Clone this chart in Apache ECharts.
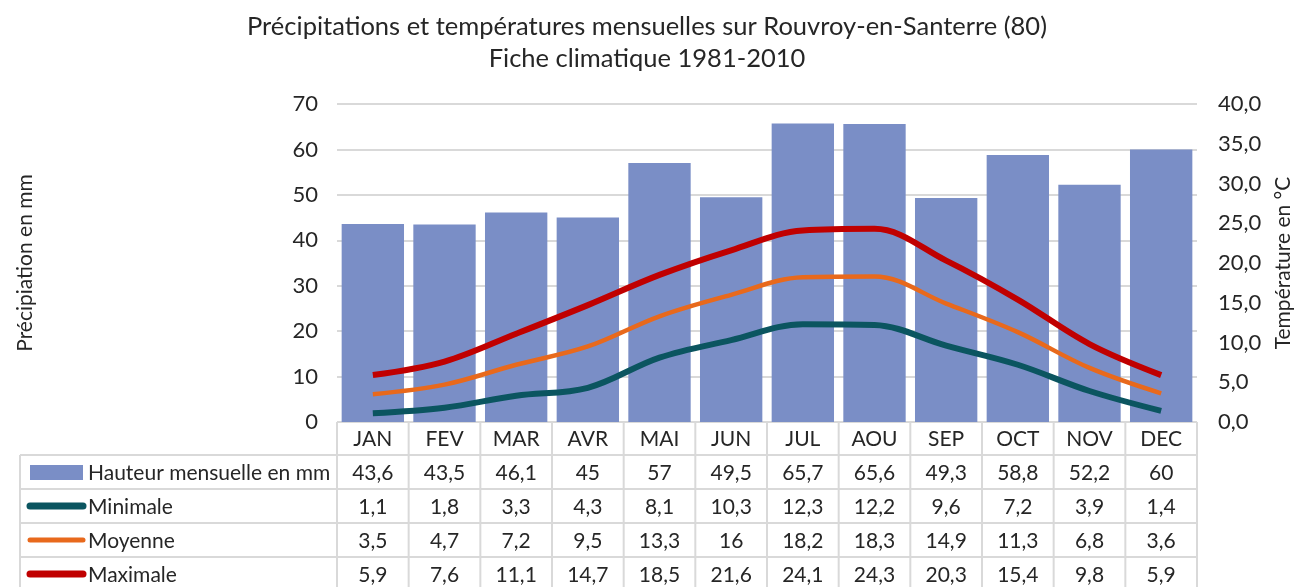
<!DOCTYPE html>
<html>
<head>
<meta charset="utf-8">
<script src="https://cdn.jsdelivr.net/npm/echarts@6/dist/echarts.min.js"></script>
<style>
    html, body { margin: 0; padding: 0; background: #fff; }
    #chart { width: 1294px; height: 587px; }
</style>
</head>
<body>
<div id="chart"></div>
<script>
// données
const months = ['JAN', 'FEV', 'MAR', 'AVR', 'MAI', 'JUN', 'JUL', 'AOU', 'SEP', 'OCT', 'NOV', 'DEC'];
const pluie = [43.6, 43.5, 46.1, 45, 57, 49.5, 65.7, 65.6, 49.3, 58.8, 52.2, 60];
const tMin = [1.1, 1.8, 3.3, 4.3, 8.1, 10.3, 12.3, 12.2, 9.6, 7.2, 3.9, 1.4];
const tMoy = [3.5, 4.7, 7.2, 9.5, 13.3, 16, 18.2, 18.3, 14.9, 11.3, 6.8, 3.6];
const tMax = [5.9, 7.6, 11.1, 14.7, 18.5, 21.6, 24.1, 24.3, 20.3, 15.4, 9.8, 5.9];

const FONT = 'Lato';
const TXT = '#262626';
const BORDER = '#d9d9d9';
const colors = { pluie: '#7a8ec6', min: '#0b5560', moy: '#e8691c', max: '#c00000' };

let myChart = echarts.init(document.getElementById('chart'));

function fr(v, dec) {
    let s = dec != null ? v.toFixed(dec) : String(v);
    return s.replace('.', ',');
}

let options = {
    animation: false,
    textStyle: { fontFamily: FONT },
    title: {
        text: 'Précipitations et températures mensuelles sur Rouvroy-en-Santerre (80)\nFiche climatique 1981-2010',
        left: 'center',
        top: 6,
        textStyle: { fontFamily: FONT, fontSize: 25.5, fontWeight: 'normal', color: TXT, lineHeight: 32 }
    },
    grid: { left: 337, right: 97, top: 104, bottom: 165, outerBoundsMode: 'none', containLabel: false },
    xAxis: {
        type: 'category',
        data: months,
        axisLine: { lineStyle: { color: BORDER } },
        axisTick: { show: false },
        axisLabel: { show: false }
    },
    yAxis: [
        {
            type: 'value',
            min: 0, max: 70, interval: 10,
            name: 'Précipiation en mm',
            nameLocation: 'middle',
            nameGap: 301,
            nameTextStyle: { fontFamily: FONT, fontSize: 21, color: TXT },
            axisLabel: { fontFamily: FONT, fontSize: 22, color: TXT, margin: 19 },
            axisLine: { show: false },
            axisTick: { show: false },
            splitLine: { lineStyle: { color: BORDER, width: 2 } }
        },
        {
            type: 'value',
            min: 0, max: 40, interval: 5,
            name: 'Température en °C',
            nameLocation: 'middle',
            nameGap: 76,
            nameTextStyle: { fontFamily: FONT, fontSize: 21, color: TXT },
            axisLabel: { fontFamily: FONT, fontSize: 22, color: TXT, margin: 21, formatter: v => fr(v, 1) },
            axisLine: { show: false },
            axisTick: { show: false },
            splitLine: { show: false }
        }
    ],
    series: [
        {
            type: 'bar',
            name: 'Hauteur mensuelle en mm',
            data: pluie,
            barCategoryGap: '13%',
            itemStyle: { color: colors.pluie }
        },
        {
            type: 'line', name: 'Minimale', yAxisIndex: 1, data: tMin,
            smooth: 0.35, symbol: 'none',
            lineStyle: { color: colors.min, width: 6 }
        },
        {
            type: 'line', name: 'Moyenne', yAxisIndex: 1, data: tMoy,
            smooth: 0.35, symbol: 'none',
            lineStyle: { color: colors.moy, width: 4.5 }
        },
        {
            type: 'line', name: 'Maximale', yAxisIndex: 1, data: tMax,
            smooth: 0.35, symbol: 'none',
            lineStyle: { color: colors.max, width: 6 }
        }
    ]
};
myChart.setOption(options);

// tableau de données sous le graphique
let c0 = myChart.convertToPixel({ xAxisIndex: 0 }, 0);
let c1 = myChart.convertToPixel({ xAxisIndex: 0 }, 1);
let colW = c1 - c0;
let x0 = c0 - colW / 2;
let x1 = x0 + colW * months.length;
let xL = 20;
let yTop = 422;
let rowH = 34;
let yRows = [455, 489, 523, 557, 591];
let tableFont = '21px ' + FONT;

let g = [];
let lineStyle = { stroke: BORDER, lineWidth: 2 };
// horizontales
g.push({ type: 'line', shape: { x1: x0, y1: yTop, x2: x1, y2: yTop }, style: lineStyle, silent: true });
yRows.forEach(y => {
    g.push({ type: 'line', shape: { x1: xL, y1: y, x2: x1, y2: y }, style: lineStyle, silent: true });
});
// verticales
for (let i = 0; i <= months.length; i++) {
    let x = x0 + i * colW;
    g.push({ type: 'line', shape: { x1: x, y1: yTop, x2: x, y2: 600 }, style: lineStyle, silent: true });
}
g.push({ type: 'line', shape: { x1: xL, y1: yRows[0], x2: xL, y2: 600 }, style: lineStyle, silent: true });

// en-tête des mois
months.forEach((m, i) => {
    g.push({
        type: 'text', x: x0 + (i + 0.5) * colW, y: (yTop + yRows[0]) / 2 + 1,
        style: { text: m, font: tableFont, fill: TXT, align: 'center', verticalAlign: 'middle' }
    });
});

// lignes du tableau
let rows = [
    { name: 'Hauteur mensuelle en mm', data: pluie, color: colors.pluie, bar: true },
    { name: 'Minimale', data: tMin, color: colors.min },
    { name: 'Moyenne', data: tMoy, color: colors.moy, thin: true },
    { name: 'Maximale', data: tMax, color: colors.max }
];
rows.forEach((r, k) => {
    let cy = yRows[k] + rowH / 2;
    if (r.bar) {
        g.push({ type: 'rect', shape: { x: 30, y: cy - 7, width: 53, height: 15 }, style: { fill: r.color }, silent: true });
    } else {
        g.push({
            type: 'line', shape: { x1: 30, y1: cy, x2: 83, y2: cy },
            style: { stroke: r.color, lineWidth: r.thin ? 5 : 7, lineCap: 'round' }, silent: true
        });
    }
    g.push({
        type: 'text', x: 88, y: cy + 1,
        style: { text: r.name, font: tableFont, fill: TXT, align: 'left', verticalAlign: 'middle' }
    });
    r.data.forEach((v, i) => {
        g.push({
            type: 'text', x: x0 + (i + 0.5) * colW, y: cy + 1,
            style: { text: fr(v), font: tableFont, fill: TXT, align: 'center', verticalAlign: 'middle' }
        });
    });
});

myChart.setOption({ graphic: g });
</script>
</body>
</html>
